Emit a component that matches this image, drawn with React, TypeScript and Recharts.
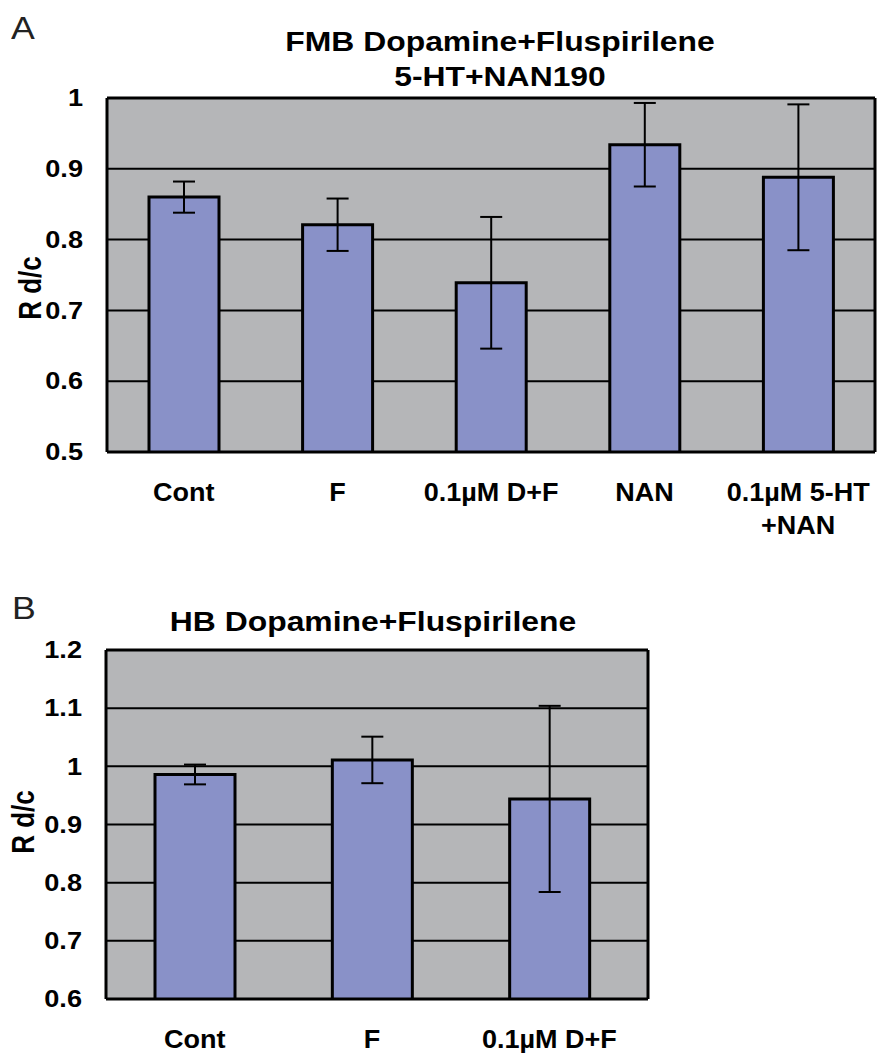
import { BarChart, Bar, XAxis, YAxis, CartesianGrid, ErrorBar } from 'recharts';

// Panel A: FMB
const groupsA = ['Cont', 'F', '0.1µM D+F', 'NAN', '0.1µM 5-HT\n+NAN'];
const meansA = [0.86, 0.821, 0.739, 0.934, 0.888];
const errsA = [0.022, 0.037, 0.093, 0.059, 0.103];
const ticksA = [0.5, 0.6, 0.7, 0.8, 0.9, 1];

// Panel B: HB
const groupsB = ['Cont', 'F', '0.1µM D+F'];
const meansB = [0.986, 1.011, 0.944];
const errsB = [0.017, 0.04, 0.16];
const ticksB = [0.6, 0.7, 0.8, 0.9, 1, 1.1, 1.2];

const dataA = groupsA.map((name, i) => ({ name, mean: meansA[i], err: errsA[i] }));
const dataB = groupsB.map((name, i) => ({ name, mean: meansB[i], err: errsB[i] }));

const FONT = '"Liberation Sans", Arial, sans-serif';
const BAR_FILL = '#8991c8';
const PLOT_BG = '#b5b6b8';

const YTick = ({ x, y, payload }: any) => (
    <g transform={`translate(${x},${y}) scale(1.18,1)`}>
        <text textAnchor="end" dy="0.36em" fontSize={23} fontWeight="bold" fontFamily={FONT} fill="#000">
            {payload.value}
        </text>
    </g>
);

const XTick = ({ x, y, payload }: any) => {
    const lines = String(payload.value).split('\n');
    return (
        <g transform={`translate(${x},${y}) scale(1.08,1)`}>
            {lines.map((line, i) => (
                <text key={i} textAnchor="middle" y={49 + i * 33} fontSize={25} fontWeight="bold" fontFamily={FONT} fill="#000">
                    {line}
                </text>
            ))}
        </g>
    );
};

// outer frame of the plot area, taken from the chart's own offset
const frameX = ({ offset }: any) => [offset.left, offset.left + offset.width];
const frameY = ({ offset }: any) => [offset.top, offset.top + offset.height];

const textBase: any = { position: 'absolute', fontFamily: FONT, color: '#000', whiteSpace: 'nowrap' };

function Panel({ data, ticks, width, height, margin, xh, barSize, pad }: any) {
    return (
        <BarChart width={width} height={height} data={data} margin={margin}>
            <CartesianGrid vertical={false} stroke="#000" strokeWidth={2} fill={PLOT_BG} fillOpacity={1} />
            <XAxis dataKey="name" height={xh} tick={<XTick />} tickLine={false} tickSize={0} tickMargin={0}
                interval={0} padding={pad} axisLine={false} />
            <YAxis type="number" domain={[ticks[0], ticks[ticks.length - 1]]} ticks={ticks} allowDataOverflow
                width={87} tick={<YTick />} tickLine={false} tickSize={0} tickMargin={24} axisLine={false} />
            <Bar dataKey="mean" fill={BAR_FILL} stroke="#000" strokeWidth={3} barSize={barSize} isAnimationActive={false}>
                <ErrorBar dataKey="err" width={11} strokeWidth={2} stroke="#000" />
            </Bar>
            <CartesianGrid stroke="#000" strokeWidth={3} fill="none"
                horizontalCoordinatesGenerator={frameY} verticalCoordinatesGenerator={frameX} />
        </BarChart>
    );
}

export default function App() {
    return (
        <div style={{ position: 'absolute', left: 0, top: 0, width: 877, height: 1056, background: '#fff', overflow: 'hidden' }}>
            {/* A */}
            <div style={{ position: 'absolute', left: 0, top: 0 }}>
                <Panel data={dataA} ticks={ticksA} width={877} height={560} barSize={70} xh={80}
                    margin={{ top: 98, right: 2, left: 20, bottom: 28 }} pad={{ left: 0, right: 0 }} />
            </div>
            <div style={{ ...textBase, left: 11, top: 13, fontSize: 31, lineHeight: 1, color: '#222', transform: 'scaleX(1.15)', transformOrigin: 'left' }}>A</div>
            <div style={{ ...textBase, left: 500, top: 25, fontSize: 27, lineHeight: '35px', fontWeight: 'bold', textAlign: 'center', transform: 'translateX(-50%) scaleX(1.18)' }}>
                FMB Dopamine+Fluspirilene<br />5-HT+NAN190
            </div>
            <div style={{ ...textBase, left: 30, top: 288, fontSize: 26, lineHeight: 1, fontWeight: 'bold', transform: 'translate(-50%,-50%) rotate(-90deg) scaleY(1.2)' }}>R d/c</div>

            {/* B */}
            <div style={{ position: 'absolute', left: 0, top: 560 }}>
                <Panel data={dataB} ticks={ticksB} width={652} height={496} barSize={80} xh={50}
                    margin={{ top: 90, right: 4, left: 19, bottom: 7 }} pad={{ left: 0, right: 10 }} />
            </div>
            <div style={{ ...textBase, left: 12, top: 593, fontSize: 31, lineHeight: 1, color: '#222', transform: 'scaleX(1.15)', transformOrigin: 'left' }}>B</div>
            <div style={{ ...textBase, left: 373, top: 609, fontSize: 27, lineHeight: 1, fontWeight: 'bold', transform: 'translateX(-50%) scaleX(1.18)' }}>
                HB Dopamine+Fluspirilene
            </div>
            <div style={{ ...textBase, left: 23, top: 822, fontSize: 26, lineHeight: 1, fontWeight: 'bold', transform: 'translate(-50%,-50%) rotate(-90deg) scaleY(1.2)' }}>R d/c</div>
        </div>
    );
}
